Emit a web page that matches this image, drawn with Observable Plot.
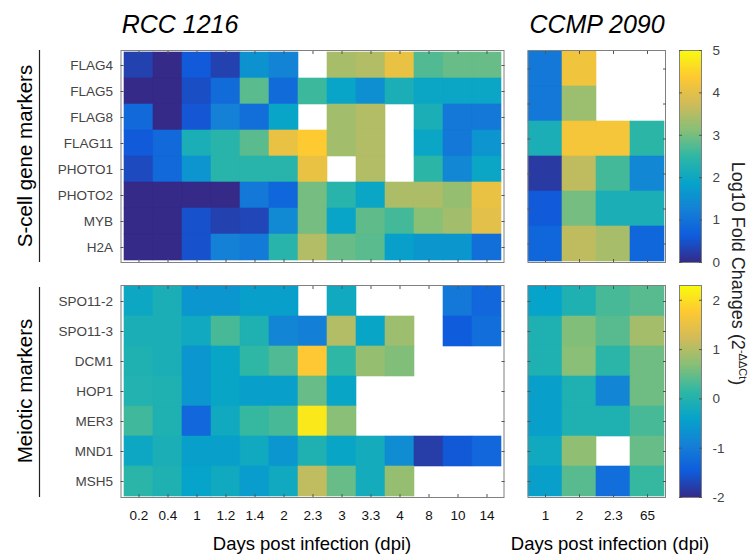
<!DOCTYPE html>
<html><head><meta charset="utf-8">
<script src="https://cdn.jsdelivr.net/npm/d3@7"></script>
<script src="https://cdn.jsdelivr.net/npm/@observablehq/plot@0.6"></script>
<style>
body{margin:0;background:#fff;font-family:"Liberation Sans",Arial,sans-serif}
#wrap{position:relative;width:750px;height:554px;overflow:hidden;background:#fff}
#wrap svg{position:absolute;left:0;top:0}
</style></head><body><div id="wrap"></div>
<script>
// ---------- data ----------
const rccDays = ["0.2","0.4","1","1.2","1.4","2","2.3","3","3.3","4","8","10","14"];
const ccmpDays = ["1","2","2.3","65"];
const sGenes = ["FLAG4","FLAG5","FLAG8","FLAG11","PHOTO1","PHOTO2","MYB","H2A"];
const mGenes = ["SPO11-2","SPO11-3","DCM1","HOP1","MER3","MND1","MSH5"];
const ccmpSRows = ["r1","r2","r3","r4","r5","r6"];
const sTicks = [0,1,2,3,4,5];
const mTicks = [-2,-1,0,1,2];
const sRange = [0,5];
const mRange = [-2,2.3];

const rccS = [
  [0.3, 0, 0.6, 0.3, 1.55, 1.3, null, 3.4, 3.5, 4.1, 2.75, 2.9, 2.9],
  [0, 0, 0.45, 0.9, 2.8, 0.9, 2.6, 1.9, 1.5, 2.2, 1.95, 1.95, 1.95],
  [0.85, 0, 0.55, 1.25, 0.95, 1.9, null, 3.35, 3.5, null, 2.2, 1.1, 1.1],
  [0.6, 0.85, 2.2, 2.4, 2.8, 4.1, 4.4, 3.35, 3.5, null, 1.95, 1.1, 1.6],
  [0.4, 0.85, 1.6, 2.4, 2.4, 2.4, 4.1, null, 3.5, null, 2.45, 1.35, 1.95],
  [0, 0, 0, 0, 1.1, 0.8, 3.0, 2.4, 1.95, 3.45, 3.45, 3.25, 4.1],
  [0, 0, 0.5, 0.3, 0.35, 1.4, 3.0, 1.9, 2.85, 2.65, 3.15, 3.35, 4.0],
  [0, 0, 0.5, 1.25, 1.15, 2.4, 3.5, 2.9, 2.8, 1.8, 1.65, 1.65, 0.95]
];
const ccmpS = [
  [1.1, 4.2, null, null],
  [1.1, 3.3, null, null],
  [2.2, 4.25, 4.25, 2.45],
  [0.2, 3.6, 2.65, 1.35],
  [0.6, 3.0, 2.2, 2.2],
  [0.8, 3.6, 3.4, 0.8]
];
const rccM = [
  [-0.3, -0.1, -0.6, -0.6, -0.45, -0.45, null, -0.25, null, null, null, -1.05, -1.3],
  [-0.1, -0.1, -0.25, 0.3, -0.05, -0.85, -0.95, 1.0, -0.35, 0.85, null, -1.45, -1.2],
  [-0.05, -0.1, -0.6, -0.35, 0.15, 0.35, 1.75, 0.15, 0.8, 0.65, null, null, null],
  [0.0, -0.05, -0.6, -0.35, -0.45, -0.45, 0.5, -0.35, null, null, null, null, null],
  [0.25, -0.05, -1.3, -0.25, 0.2, 0.3, 2.1, 0.7, null, null, null, null, null],
  [-0.3, -0.1, -0.45, -0.45, -0.25, -0.6, -0.05, -0.35, -0.2, -0.75, -1.8, -1.5, -1.3],
  [0.1, -0.05, -0.4, -0.25, -0.5, -0.25, 1.1, 0.5, -0.2, 0.8, null, null, null]
];
const ccmpM = [
  [-0.4, -0.05, 0.3, 0.4],
  [-0.05, 0.65, 0.4, 0.9],
  [-0.05, 0.7, 0.1, 0.55],
  [-0.45, -0.05, -0.85, 0.55],
  [-0.45, -0.05, -0.05, 0.3],
  [-0.25, 0.75, null, 0.5],
  [-0.45, 0.4, -1.2, 0.2]
];
const parula = ["#352a87","#0f5cdd","#1481d6","#06a4ca","#2eb7a4","#87bf77","#d1bb59","#fec832","#f9fb0e"];

// ---------- drawing ----------
const W = 750, H = 554;
const wrap = document.getElementById("wrap");
const interp = d3.piecewise(d3.interpolateRgb, parula);
const font = "'Liberation Sans', Arial, sans-serif";
const frameColor = "#808080";

function heat({rows, cols, values, range, box, yLabels, xLabels}) {
  const table = [];
  rows.forEach((r, i) => cols.forEach((c, j) => table.push({row: r, col: c, v: values[i][j]})));
  const marks = [
    Plot.cell(table, {x: "col", y: "row", fill: "v", stroke: "v", strokeWidth: 0.6, filter: d => d.v != null}),
    Plot.frame({stroke: frameColor}),
    Plot.axisY({anchor: "left", tickSize: 3, dx: 3, tickFormat: () => "", label: null, stroke: "#555"}),
    Plot.axisY({anchor: "right", tickSize: 3, dx: -3, tickFormat: () => "", label: null, stroke: "#555"}),
    Plot.axisX({anchor: "top", tickSize: 3, dy: 3, tickFormat: () => "", label: null, stroke: "#555"}),
    Plot.axisX({anchor: "bottom", tickSize: 3, dy: -3, tickFormat: () => "", label: null, stroke: "#555"})
  ];
  if (yLabels) marks.push(Plot.axisY({anchor: "left", tickSize: 0, tickPadding: 8, fontSize: 13.5, fill: "#444", label: null}));
  if (xLabels) marks.push(Plot.axisX({anchor: "bottom", tickSize: 0, tickPadding: 13, fontSize: 13.5, fill: "#111", label: null}));
  const svg = Plot.plot({
    width: W, height: H,
    marginLeft: box[0], marginTop: box[1], marginRight: W - box[2], marginBottom: H - box[3],
    style: {background: "transparent", fontFamily: font, overflow: "visible"},
    x: {type: "band", domain: cols, padding: 0, axis: null},
    y: {type: "band", domain: rows, padding: 0, axis: null},
    color: {type: "linear", domain: range, interpolate: interp, clamp: true},
    marks
  });
  wrap.appendChild(svg);
}

function colorbar({range, ticks, box}) {
  const svg = Plot.plot({
    width: W, height: H,
    marginLeft: box[0], marginTop: box[1], marginRight: W - box[2], marginBottom: H - box[3],
    style: {background: "transparent", fontFamily: font, overflow: "visible"},
    x: {domain: [0, 1], axis: null},
    y: {domain: range, axis: null},
    color: {type: "linear", domain: range, interpolate: interp, clamp: true},
    marks: [
      Plot.raster({fill: (x, y) => y, x1: 0, x2: 1, y1: range[0], y2: range[1], pixelSize: 1}),
      Plot.frame({stroke: frameColor}),
      Plot.axisY(ticks, {anchor: "right", tickSize: 3, dx: -3, tickFormat: () => "", label: null, stroke: "#555"}),
      Plot.axisY(ticks, {anchor: "left", tickSize: 3, dx: 3, tickFormat: () => "", label: null, stroke: "#555"}),
      Plot.axisY(ticks, {anchor: "right", tickSize: 0, tickPadding: 11, fontSize: 13.5, fill: "#444", label: null, tickFormat: d => String(d)})
    ]
  });
  wrap.appendChild(svg);
}

const L = [120.5, 503.5], R = [527.5, 665], TOP = [50, 262], BOT = [285, 497], CB = [679, 701];
heat({rows: sGenes, cols: rccDays, values: rccS, range: sRange, box: [L[0], TOP[0], L[1], TOP[1]], yLabels: true, xLabels: false});
heat({rows: mGenes, cols: rccDays, values: rccM, range: mRange, box: [L[0], BOT[0], L[1], BOT[1]], yLabels: true, xLabels: true});
heat({rows: ccmpSRows, cols: ccmpDays, values: ccmpS, range: sRange, box: [R[0], TOP[0], R[1], TOP[1]], yLabels: false, xLabels: false});
heat({rows: mGenes, cols: ccmpDays, values: ccmpM, range: mRange, box: [R[0], BOT[0], R[1], BOT[1]], yLabels: false, xLabels: true});
colorbar({range: sRange, ticks: sTicks, box: [CB[0], TOP[0], CB[1], TOP[1]]});
colorbar({range: mRange, ticks: mTicks, box: [CB[0], BOT[0], CB[1], BOT[1]]});

// ---------- annotations ----------
const ann = d3.select(wrap).append("svg").attr("width", W).attr("height", H)
  .style("font-family", font).style("overflow", "visible");
ann.append("text").attr("x", 180).attr("y", 33).attr("text-anchor", "middle")
  .style("font-size", "25px").style("font-style", "italic").text("RCC 1216");
ann.append("text").attr("x", 597).attr("y", 33).attr("text-anchor", "middle")
  .style("font-size", "25px").style("font-style", "italic").text("CCMP 2090");
ann.append("text").attr("transform", `translate(32,${(TOP[0]+TOP[1])/2}) rotate(-90)`)
  .attr("text-anchor", "middle").style("font-size", "20.5px").text("S-cell gene markers");
ann.append("text").attr("transform", `translate(32,${(BOT[0]+BOT[1])/2}) rotate(-90)`)
  .attr("text-anchor", "middle").style("font-size", "20.5px").text("Meiotic markers");
ann.append("line").attr("x1", 39.5).attr("x2", 39.5).attr("y1", TOP[0]).attr("y2", TOP[1]).attr("stroke", "#222").attr("stroke-width", 1.2);
ann.append("line").attr("x1", 39.5).attr("x2", 39.5).attr("y1", BOT[0] + 2).attr("y2", BOT[1]).attr("stroke", "#222").attr("stroke-width", 1.2);
ann.append("text").attr("x", (L[0]+L[1])/2).attr("y", 550).attr("text-anchor", "middle")
  .style("font-size", "18.5px").text("Days post infection (dpi)");
ann.append("text").attr("x", 610).attr("y", 550).attr("text-anchor", "middle")
  .style("font-size", "18.5px").text("Days post infection (dpi)");
const cl = ann.append("text").attr("transform", `translate(732,${(TOP[0]+BOT[1])/2}) rotate(90)`)
  .attr("text-anchor", "middle").style("font-size", "18px").attr("fill", "#222");
cl.append("tspan").text("Log10 Fold Changes (2");
cl.append("tspan").attr("dy", -7).style("font-size", "11px").text("-ΔΔCt");
cl.append("tspan").attr("dy", 7).text(")");
</script></body></html>
